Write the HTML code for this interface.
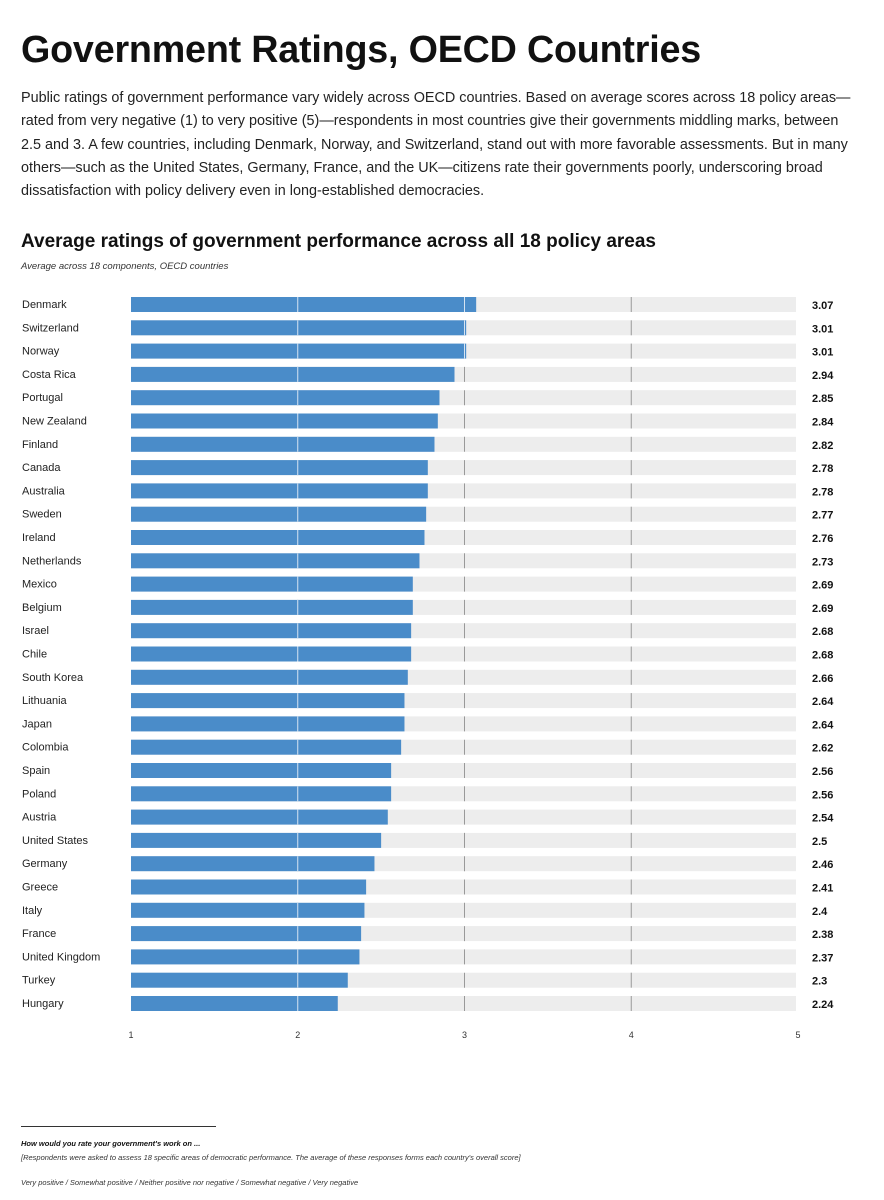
<!DOCTYPE html>
<html><head><meta charset="utf-8">
<style>
body{margin:0;width:884px;height:1200px;background:#fff;font-family:"Liberation Sans",sans-serif;color:#111;position:relative;overflow:hidden}
.abs{position:absolute}
</style></head><body>
<div class="abs" style="left:21px;top:28px;font-size:37.7px;font-weight:bold;letter-spacing:-0.2px">Government Ratings, OECD Countries</div>
<div class="abs" style="left:21px;top:87px;width:870px;font-size:14.4px;line-height:23.3px;color:#222;white-space:nowrap">Public ratings of government performance vary widely across OECD countries. Based on average scores across 18 policy areas—<br>rated from very negative (1) to very positive (5)—respondents in most countries give their governments middling marks, between<br>2.5 and 3. A few countries, including Denmark, Norway, and Switzerland, stand out with more favorable assessments. But in many<br>others—such as the United States, Germany, France, and the UK—citizens rate their governments poorly, underscoring broad<br>dissatisfaction with policy delivery even in long-established democracies.</div>
<div class="abs" style="left:21px;top:231px;font-size:19px;font-weight:bold">Average ratings of government performance across all 18 policy areas</div>
<div class="abs" style="left:21px;top:261px;font-size:9.5px;font-style:italic;color:#333">Average across 18 components, OECD countries</div>
<svg class="abs" style="left:0;top:0" width="884" height="1200" id="chart"></svg>
<div class="abs" style="left:21px;top:1126px;width:195px;height:1px;background:#333"></div>
<div class="abs" style="left:21px;top:1139px;font-size:7.5px;font-weight:bold;font-style:italic">How would you rate your government's work on ...</div>
<div class="abs" style="left:21px;top:1153px;font-size:7.5px;font-style:italic;color:#333">[Respondents were asked to assess 18 specific areas of democratic performance. The average of these responses forms each country's overall score]</div>
<div class="abs" style="left:21px;top:1178px;font-size:7.5px;font-style:italic;color:#333">Very positive / Somewhat positive / Neither positive nor negative / Somewhat negative / Very negative</div>
<script>
const countries=["Denmark","Switzerland","Norway","Costa Rica","Portugal","New Zealand","Finland","Canada","Australia","Sweden","Ireland","Netherlands","Mexico","Belgium","Israel","Chile","South Korea","Lithuania","Japan","Colombia","Spain","Poland","Austria","United States","Germany","Greece","Italy","France","United Kingdom","Turkey","Hungary"];
const scores=[3.07,3.01,3.01,2.94,2.85,2.84,2.82,2.78,2.78,2.77,2.76,2.73,2.69,2.69,2.68,2.68,2.66,2.64,2.64,2.62,2.56,2.56,2.54,2.5,2.46,2.41,2.4,2.38,2.37,2.3,2.24];
const ticks=[1,2,3,4,5];
const NS="http://www.w3.org/2000/svg",svg=document.getElementById('chart');
const x=v=>131+(v-1)*(667/4);
const y=i=>304+i*23.3;
function mk(t,a){const e=document.createElementNS(NS,t);for(const k in a)e.setAttribute(k,a[k]);svg.appendChild(e);return e;}
countries.forEach((c,i)=>{
  const cy=y(i);
  let t=mk('rect',{x:131,y:cy-7,width:665,height:15,fill:'#ededed'});
  
  
  ticks.slice(1,4).forEach(tk=>{let l=mk('line',{x1:x(tk),x2:x(tk),y1:cy-7,y2:cy+8,stroke:'#999','stroke-width':1});
    
    });
  let b=mk('rect',{x:131,y:cy-7,width:x(scores[i])-131,height:15,fill:'#4a8cc9'});
  
  
  ticks.slice(1,4).forEach(tk=>{if(x(tk)<x(scores[i])){let l=mk('line',{x1:x(tk),x2:x(tk),y1:cy-7,y2:cy+8,stroke:'#d6e4f2','stroke-width':1});
    
    }});
  let lb=mk('text',{x:22,y:cy+4,'font-size':11,fill:'#222'});lb.textContent=c;
  
  
  let v=mk('text',{x:812,y:cy+5,'font-size':11,'font-weight':'bold',fill:'#111'});v.textContent=scores[i];
  
  
});
ticks.forEach(tk=>{let t=mk('text',{x:x(tk),y:1038,'font-size':9,'text-anchor':'middle',fill:'#333'});t.textContent=tk;
  
  });
</script>
</body></html>
